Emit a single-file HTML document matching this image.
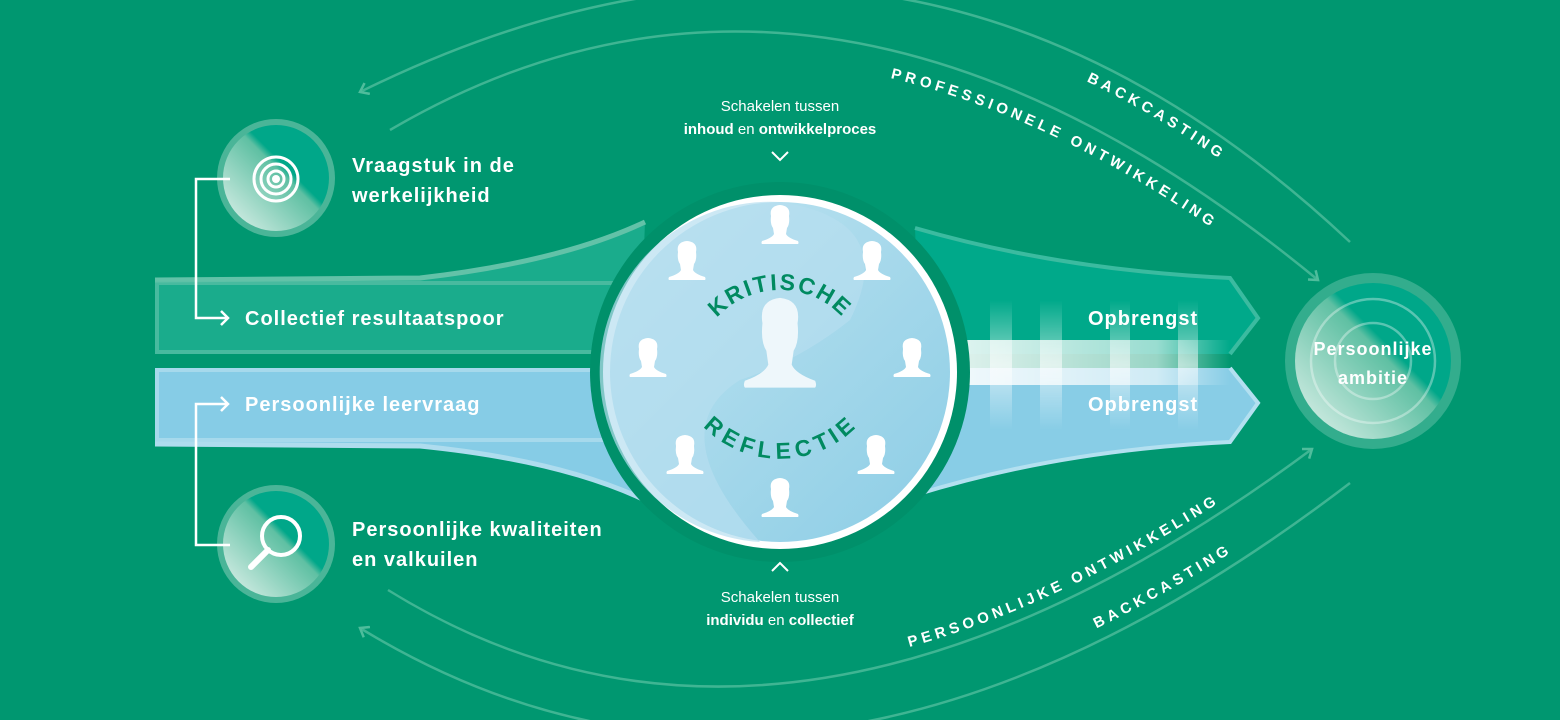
<!DOCTYPE html>
<html><head><meta charset="utf-8"><style>
html,body{margin:0;padding:0;background:#009770;}
svg{display:block}
.t{font-family:"Liberation Sans",sans-serif;fill:#fff;}
</style></head><body>
<svg width="1560" height="720" viewBox="0 0 1560 720" xmlns="http://www.w3.org/2000/svg">
<defs>
 <linearGradient id="icg" x1="0" y1="1" x2="1" y2="0">
  <stop offset="0" stop-color="#e6f4ef"/><stop offset="0.55" stop-color="#5fc0a3"/><stop offset="0.6" stop-color="#00a789"/><stop offset="1" stop-color="#00a789"/>
 </linearGradient>
 <linearGradient id="blue" x1="0" y1="0" x2="1" y2="1">
  <stop offset="0" stop-color="#c0e4f1"/><stop offset="1" stop-color="#8ccde5"/>
 </linearGradient>
 <linearGradient id="glow" x1="0" y1="0" x2="1" y2="0">
  <stop offset="0" stop-color="#fff" stop-opacity="0.9"/><stop offset="0.75" stop-color="#fff" stop-opacity="0.6"/><stop offset="1" stop-color="#fff" stop-opacity="0"/>
 </linearGradient>
 <linearGradient id="glowv" x1="0" y1="0" x2="0" y2="1">
  <stop offset="0" stop-color="#fff" stop-opacity="0"/><stop offset="0.5" stop-color="#fff" stop-opacity="1"/><stop offset="1" stop-color="#fff" stop-opacity="0"/>
 </linearGradient>
 <marker id="ah" markerWidth="14" markerHeight="14" refX="10" refY="7" orient="auto" markerUnits="userSpaceOnUse">
  <path d="M2 1 L10 7 L2 13" fill="none" stroke="#4fbd9c" stroke-width="2.5"/>
 </marker>
 <path id="pInT" d="M390 158 Q826 -97 1318 308"/>
 <path id="pOutT" d="M360 116 Q905 -155 1350 266"/>
 <path id="pInB" d="M388 578 Q788 826 1317 435"/>
 <path id="pOutB" d="M360 614 Q805 886 1350 469"/>
 <path id="pKr" d="M705 335 A85 85 0 0 1 855 335"/>
 <path id="pRe" d="M700 392 A90 90 0 0 0 860 392"/>
 <g id="person">
  <path d="M-9 -16 Q-11 -26 0 -27 Q11 -26 9 -16 Q10 -8 7 -4 L6 2 Q8 6 18 9 Q19 11 18 12 L-18 12 Q-19 11 -18 9 Q-8 6 -6 2 L-7 -4 Q-10 -8 -9 -16Z" fill="#fff"/>
 </g>
</defs>

<g fill="none" stroke="#4fbd9c" stroke-width="2.5" stroke-opacity="0.8">
 <path d="M390 130 Q826 -125 1318 280" marker-end="url(#ah)"/>
 <path d="M1350 242 Q905 -177 360 92" marker-end="url(#ah)"/>
 <path d="M388 590 Q788 838 1312 449" marker-end="url(#ah)"/>
 <path d="M1350 483 Q805 900 360 628" marker-end="url(#ah)"/>
</g>
<g class="t" font-size="15" font-weight="bold" letter-spacing="4.2">
 <text><textPath href="#pInT" startOffset="51.5%">PROFESSIONELE ONTWIKKELING</textPath></text>
 <text><textPath href="#pOutT" startOffset="70%">BACKCASTING</textPath></text>
 <text><textPath href="#pInB" startOffset="54%">PERSOONLIJKE ONTWIKKELING</textPath></text>
 <text><textPath href="#pOutB" startOffset="72%">BACKCASTING</textPath></text>
</g>

<path d="M155 280 L420 278 Q560 262 645 222 L640 354 L155 354Z" fill="#1aac8c"/>
<path d="M155 280 L420 278 Q560 262 645 222" fill="none" stroke="#62c2a8" stroke-width="5"/>
<rect x="157" y="283" width="470" height="69" fill="none" stroke="#5cc0a6" stroke-width="4" stroke-opacity="0.7"/>
<path d="M155 368 L640 368 L645 500 Q560 460 420 446 L155 444Z" fill="#86cce6"/>
<path d="M645 500 Q560 460 420 446 L155 444" fill="none" stroke="#aedcee" stroke-width="5"/>
<rect x="157" y="370" width="470" height="70" fill="none" stroke="#aedcee" stroke-width="4" stroke-opacity="0.8"/>

<path d="M915 228 Q1060 270 1230 278 L1258 318 L1230 354 L920 354Z" fill="#00a98a"/>
<path d="M915 228 Q1060 270 1230 278 L1258 318 L1230 354" fill="none" stroke="#3bbba0" stroke-width="4"/>
<path d="M920 368 L1230 368 L1258 403 L1230 442 Q1060 450 915 495Z" fill="#88cde6"/>
<path d="M1230 368 L1258 403 L1230 442 Q1060 450 915 495" fill="none" stroke="#b3e0f0" stroke-width="4"/>
<rect x="940" y="340" width="290" height="45" fill="url(#glow)"/>
<g fill="url(#glowv)" opacity="0.55">
 <rect x="990" y="300" width="22" height="130"/>
 <rect x="1040" y="300" width="22" height="130"/>
 <rect x="1110" y="300" width="20" height="130"/>
 <rect x="1178" y="300" width="20" height="130"/>
</g>

<circle cx="780" cy="372" r="190" fill="#00906a"/>
<circle cx="780" cy="372" r="177" fill="#fff"/>
<circle cx="780" cy="372" r="170" fill="url(#blue)"/>
<path d="M780 202 Q900 220 850 320 Q800 360 740 380 Q660 430 760 542 A170 170 0 0 1 780 202Z" fill="#b6def0" opacity="0.7"/>
<use href="#person" x="780" y="232"/>
<use href="#person" x="872" y="268"/>
<use href="#person" x="912" y="365"/>
<use href="#person" x="876" y="462"/>
<use href="#person" x="780" y="505"/>
<use href="#person" x="685" y="462"/>
<use href="#person" x="648" y="365"/>
<use href="#person" x="687" y="268"/>
<g transform="translate(780 360) scale(1.95 2.3)"><path d="M-9 -16 Q-11 -26 0 -27 Q11 -26 9 -16 Q10 -8 7 -4 L6 2 Q8 6 18 9 Q19 11 18 12 L-18 12 Q-19 11 -18 9 Q-8 6 -6 2 L-7 -4 Q-10 -8 -9 -16Z" fill="#eef7fb"/></g>
<g font-family="Liberation Sans,sans-serif" font-weight="bold" font-size="23" fill="#008a60" letter-spacing="2">
 <text><textPath href="#pKr" startOffset="50%" text-anchor="middle">KRITISCHE</textPath></text>
 <text dy="18"><textPath href="#pRe" startOffset="50%" text-anchor="middle">REFLECTIE</textPath></text>
</g>

<g class="t" font-size="15" text-anchor="middle">
 <text x="780" y="111">Schakelen tussen</text>
 <text x="780" y="134"><tspan font-weight="bold">inhoud</tspan> en <tspan font-weight="bold">ontwikkelproces</tspan></text>
 <text x="780" y="602">Schakelen tussen</text>
 <text x="780" y="625"><tspan font-weight="bold">individu</tspan> en <tspan font-weight="bold">collectief</tspan></text>
</g>
<path d="M772 152 L780 160 L788 152" fill="none" stroke="#fff" stroke-width="2"/>
<path d="M772 571 L780 563 L788 571" fill="none" stroke="#fff" stroke-width="2"/>

<circle cx="276" cy="178" r="59" fill="#7ccab2" opacity="0.6"/>
<circle cx="276" cy="178" r="53" fill="url(#icg)"/>
<g fill="none" stroke="#fff" stroke-width="3"><circle cx="276" cy="179" r="22"/><circle cx="276" cy="179" r="15"/><circle cx="276" cy="179" r="8"/></g>
<circle cx="276" cy="179" r="4" fill="#fff"/>
<circle cx="276" cy="544" r="59" fill="#7ccab2" opacity="0.6"/>
<circle cx="276" cy="544" r="53" fill="url(#icg)"/>
<circle cx="281" cy="536" r="19" fill="none" stroke="#fff" stroke-width="4"/>
<path d="M268 550 L251 567" stroke="#fff" stroke-width="6" stroke-linecap="round"/>
<g fill="none" stroke="#fff" stroke-width="2.5">
 <path d="M230 179 L196 179 L196 318 L228 318"/>
 <path d="M221 311 L228 318 L221 325"/>
 <path d="M230 545 L196 545 L196 404 L228 404"/>
 <path d="M221 397 L228 404 L221 411"/>
</g>

<circle cx="1373" cy="361" r="88" fill="#5cc0a6" opacity="0.55"/>
<circle cx="1373" cy="361" r="78" fill="url(#icg)"/>
<g fill="none" stroke="#fff" stroke-opacity="0.35" stroke-width="2.5"><circle cx="1373" cy="361" r="62"/><circle cx="1373" cy="361" r="38"/></g>

<g class="t" font-weight="bold" font-size="20" letter-spacing="1">
 <text x="352" y="172">Vraagstuk in de</text>
 <text x="352" y="202">werkelijkheid</text>
 <text x="352" y="536">Persoonlijke kwaliteiten</text>
 <text x="352" y="566">en valkuilen</text>
 <text x="245" y="325">Collectief resultaatspoor</text>
 <text x="245" y="411">Persoonlijke leervraag</text>
 <text x="1088" y="325">Opbrengst</text>
 <text x="1088" y="411">Opbrengst</text>
 <text x="1373" y="355" text-anchor="middle" font-size="18">Persoonlijke</text>
 <text x="1373" y="384" text-anchor="middle" font-size="18">ambitie</text>
</g>
</svg>
</body></html>
